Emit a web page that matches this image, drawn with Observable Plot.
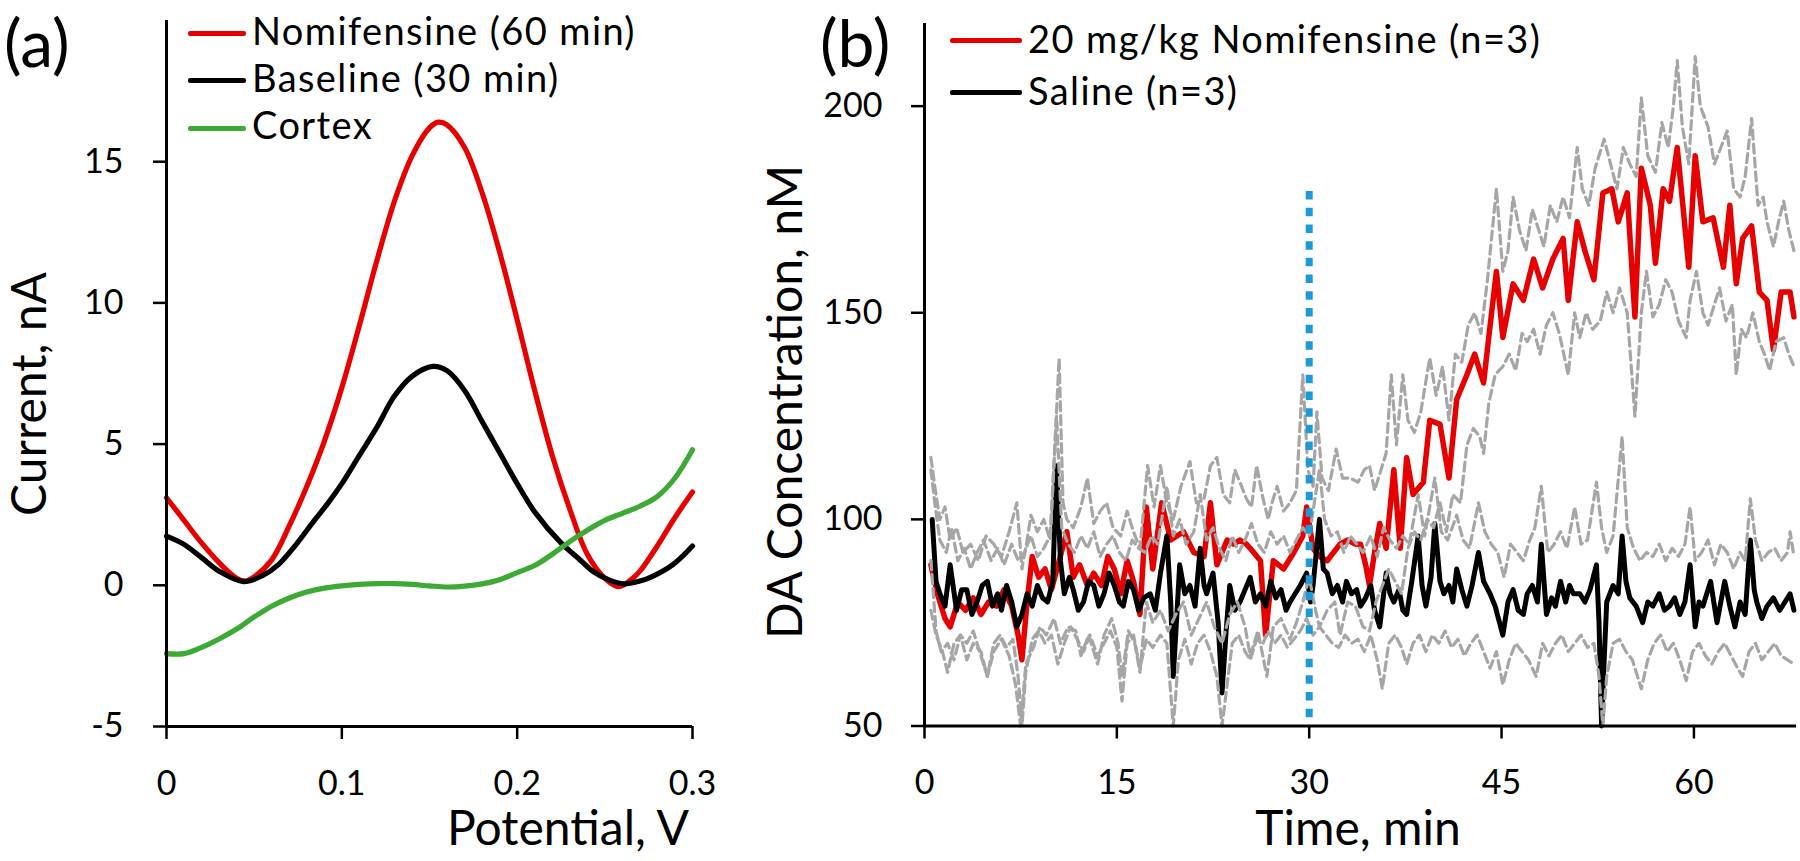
<!DOCTYPE html>
<html><head><meta charset="utf-8">
<script src="https://cdn.jsdelivr.net/npm/d3@7"></script>
<script src="https://cdn.jsdelivr.net/npm/@observablehq/plot@0.6"></script>
<style>
html,body{margin:0;padding:0;background:#fff;}
#fig{position:relative;width:1800px;height:861px;overflow:hidden;font-family:Lato,"Open Sans",sans-serif;color:#000;}
.pane{position:absolute;top:0;}
.t{position:absolute;white-space:nowrap;line-height:1;}
.leg{font-size:38px;letter-spacing:1.4px;}
.sw{position:absolute;height:5px;border-radius:2px;}
.ttl{font-size:48px;}
.rot{transform-origin:0 0;transform:rotate(-90deg) translateX(-50%);}
</style></head>
<body>
<div id="fig">
  <div id="pa" class="pane" style="left:0"></div>
  <div id="pb" class="pane" style="left:780px"></div>

  <div class="t" style="left:4px;top:9px;font-size:66px;">(a)</div>
  <div class="t" style="left:820px;top:9px;font-size:66px;">(b)</div>

  <div class="sw" style="left:188px;top:30.5px;width:58px;background:#e60000"></div>
  <div class="t leg" style="left:252px;top:11.3px">Nomifensine (60 min)</div>
  <div class="sw" style="left:188px;top:77.5px;width:58px;background:#000"></div>
  <div class="t leg" style="left:252px;top:58.3px">Baseline (30 min)</div>
  <div class="sw" style="left:188px;top:125.5px;width:58px;background:#3daa35"></div>
  <div class="t leg" style="left:252px;top:105.3px">Cortex</div>

  <div class="sw" style="left:950px;top:37.5px;width:72px;background:#e60000"></div>
  <div class="t leg" style="left:1028px;top:19.3px">20 mg/kg Nomifensine (n=3)</div>
  <div class="sw" style="left:950px;top:89.5px;width:72px;background:#000"></div>
  <div class="t leg" style="left:1028px;top:71.3px">Saline (n=3)</div>

  <div class="t ttl" style="left:447px;top:803.4px">Potential, V</div>
  <div class="t ttl" style="left:1358px;top:803.4px;transform:translateX(-50%)">Time, min</div>
  <div class="t ttl rot" style="left:4.4px;top:394px">Current, nA</div>
  <div class="t ttl rot" style="left:760px;top:402px">DA Concentration, nM</div>
</div>
<script>
// ---------- Panel (a): voltammograms [potential V, current nA] ----------
const potentialTicks = [0, 0.1, 0.2, 0.3];
const currentTicks = [-5, 0, 5, 10, 15];
const nomifensine60 = [[0,3.1],[0.01,2.3],[0.02,1.5],[0.03,0.8],[0.04,0.25],[0.045,0.15],[0.05,0.3],[0.06,0.9],[0.07,2.1],[0.08,3.5],[0.09,5.1],[0.10,7.0],[0.11,9.2],[0.12,11.5],[0.13,13.6],[0.14,15.2],[0.15,16.2],[0.155,16.4],[0.16,16.3],[0.17,15.5],[0.18,13.9],[0.19,11.8],[0.20,9.4],[0.21,6.9],[0.22,4.6],[0.23,2.7],[0.24,1.1],[0.25,0.25],[0.258,-0.05],[0.265,0.2],[0.27,0.5],[0.28,1.4],[0.29,2.4],[0.30,3.3]];
const baseline30 = [[0,1.74],[0.01,1.45],[0.02,0.98],[0.03,0.5],[0.044,0.13],[0.055,0.35],[0.064,0.74],[0.074,1.45],[0.084,2.27],[0.092,2.9],[0.10,3.6],[0.11,4.6],[0.12,5.6],[0.13,6.7],[0.14,7.4],[0.152,7.75],[0.16,7.6],[0.17,6.9],[0.18,5.8],[0.19,4.7],[0.20,3.6],[0.21,2.6],[0.225,1.5],[0.235,0.95],[0.243,0.5],[0.252,0.2],[0.261,0.05],[0.27,0.15],[0.276,0.28],[0.289,0.74],[0.30,1.39]];
const cortex = [[0,-2.42],[0.01,-2.42],[0.02,-2.2],[0.03,-1.9],[0.04,-1.55],[0.05,-1.12],[0.06,-0.74],[0.07,-0.45],[0.08,-0.24],[0.09,-0.1],[0.10,-0.02],[0.11,0.03],[0.12,0.06],[0.13,0.06],[0.14,0.03],[0.15,-0.02],[0.16,-0.06],[0.17,-0.03],[0.18,0.05],[0.19,0.2],[0.20,0.45],[0.21,0.7],[0.22,1.1],[0.23,1.55],[0.24,1.95],[0.25,2.3],[0.26,2.55],[0.27,2.8],[0.28,3.15],[0.29,3.8],[0.30,4.8]];

// ---------- Panel (b): DA concentration [time min, nM] ----------
const timeTicks = [0, 15, 30, 45, 60];
const concTicks = [50, 100, 150, 200];
const injectionTime = [30];
const injectionSpan = [52, 181];
const nomifensineMean = [[0.5,89],[1.0,82],[1.6,76],[2.0,74],[2.6,80],[3.2,78],[3.8,81],[4.4,77],[5.0,80],[5.6,79],[6.2,83],[6.8,79],[7.3,72],[7.6,66],[8.0,80],[8.4,91],[8.9,86],[9.4,88],[9.9,83],[10.5,90],[11.1,97],[11.6,86],[12.1,89],[12.7,84],[13.2,87],[13.8,84],[14.3,91],[14.8,88],[15.3,82],[15.8,90],[16.3,85],[16.8,77],[17.3,103],[17.8,88],[18.5,104],[19.2,95],[20.2,97],[21.0,92],[21.8,91],[22.3,104],[22.8,89],[23.6,95],[24.1,94],[24.6,95],[25.1,94],[25.4,93],[26.2,90],[26.6,72],[27.2,90],[28.0,88],[28.8,92],[29.5,96],[29.8,103],[30.3,93],[30.8,91],[31.4,90],[32.4,94],[33.0,95],[33.6,94],[34.0,94],[34.4,89],[34.7,84],[35.1,92],[35.5,99],[36.0,93],[36.6,112],[37.1,93],[37.6,115],[38.1,106],[38.9,109],[39.4,124],[40.2,123],[40.9,110],[41.5,129],[42.3,135],[42.9,140],[43.6,133],[44.0,144],[44.6,160],[45.1,144],[45.9,157],[46.7,153],[47.5,163],[48.2,156],[49.0,163],[49.8,168],[50.2,153],[50.9,172],[51.5,165],[52.2,158],[52.9,179],[53.6,180],[54.1,172],[54.8,179],[55.4,149],[55.9,185],[56.6,176],[57.0,162],[57.6,180],[58.1,177],[58.7,190],[59.2,174],[59.6,161],[60.1,188],[60.7,172],[61.5,173],[62.3,161],[62.8,176],[63.3,157],[63.8,168],[64.5,171],[65.1,155],[65.7,153],[66.2,141],[66.8,155],[67.5,155],[67.8,149]];
const nomifensineUpper = [[0.5,115],[0.8,108],[1.2,100],[1.6,103],[2.0,95],[2.5,98],[3.0,92],[3.6,94],[4.2,90],[4.8,96],[5.4,94],[6.0,91],[6.6,97],[7.2,104],[7.6,88],[8.0,95],[8.3,101],[8.8,97],[9.3,100],[9.8,95],[10.5,139],[10.8,104],[11.1,100],[11.6,98],[12.2,103],[12.7,110],[13.2,99],[13.7,102],[14.2,104],[14.7,98],[15.3,96],[15.8,102],[16.3,97],[16.8,93],[17.4,113],[17.9,103],[18.4,113],[18.9,104],[19.4,100],[20.0,108],[20.7,114],[21.2,104],[21.8,105],[22.3,113],[22.8,115],[23.3,106],[23.8,104],[24.2,112],[24.6,109],[25.1,105],[25.5,103],[25.9,113],[26.4,105],[26.8,100],[27.1,104],[27.5,108],[28.0,102],[28.5,104],[29.0,107],[29.5,135],[29.9,112],[30.3,108],[30.6,126],[31.0,110],[31.5,107],[32.1,117],[32.6,110],[33.2,110],[33.8,109],[34.3,112],[34.7,113],[35.1,107],[35.6,112],[36.0,116],[36.4,135],[36.8,118],[37.3,135],[37.7,124],[38.2,121],[38.7,126],[39.4,139],[39.9,130],[40.4,137],[40.9,124],[41.4,140],[41.9,138],[42.4,147],[42.9,150],[43.4,145],[43.9,158],[44.6,180],[45.1,160],[45.5,165],[45.9,178],[46.4,170],[46.9,165],[47.4,175],[47.9,170],[48.3,166],[48.8,176],[49.3,172],[49.8,178],[50.3,173],[50.9,190],[51.3,180],[51.8,176],[52.3,185],[53.0,192],[53.5,186],[54.0,180],[54.5,190],[55.0,186],[55.5,183],[55.9,202],[56.4,188],[57.0,184],[57.5,196],[58.0,190],[58.4,200],[58.7,211],[59.1,195],[59.6,186],[60.1,212],[60.5,200],[61.1,195],[61.6,186],[62.1,190],[62.6,194],[63.1,180],[63.6,178],[64.0,183],[64.5,197],[65.0,176],[65.4,178],[65.7,172],[66.2,166],[66.6,172],[67.0,177],[67.4,170],[67.8,165]];
const nomifensineLower = [[0.5,78],[0.9,72],[1.4,68],[1.8,63],[2.3,70],[2.8,72],[3.3,66],[3.8,70],[4.4,68],[4.9,62],[5.4,68],[6.0,71],[6.6,67],[7.1,60],[7.5,50],[7.9,65],[8.5,69],[9.0,74],[9.5,72],[10.1,76],[10.6,70],[11.2,74],[11.8,73],[12.2,67],[12.8,72],[13.5,65],[14.0,72],[14.6,76],[15.1,70],[15.4,62],[15.9,73],[16.4,70],[16.8,63],[17.3,80],[17.8,75],[18.4,78],[19.0,73],[19.6,77],[20.2,80],[20.8,72],[21.4,76],[22.0,80],[22.6,74],[23.2,70],[23.8,77],[24.4,80],[25.0,74],[25.4,67],[26.0,73],[26.7,62],[27.2,74],[27.8,76],[28.5,71],[29.0,75],[29.5,80],[30.0,86],[30.5,78],[30.8,74],[31.4,78],[32.0,80],[32.4,72],[33.0,80],[33.6,79],[34.2,74],[34.7,73],[35.2,80],[35.7,84],[36.2,88],[36.7,85],[37.2,82],[37.7,93],[38.2,97],[38.7,95],[39.2,100],[39.7,98],[40.2,104],[40.7,97],[41.2,106],[41.8,104],[42.3,118],[42.8,122],[43.3,120],[43.6,116],[44.0,128],[44.5,135],[45.1,137],[45.6,140],[46.1,136],[46.6,145],[47.0,143],[47.5,146],[48.0,140],[48.5,147],[49.0,150],[49.5,145],[50.2,135],[50.7,150],[51.1,144],[51.6,150],[52.1,146],[52.7,148],[53.2,155],[53.7,150],[54.2,156],[54.8,150],[55.4,125],[55.9,150],[56.3,160],[56.8,149],[57.3,152],[57.8,158],[58.3,155],[58.8,148],[59.4,144],[59.7,153],[60.2,160],[60.7,150],[61.1,147],[61.5,151],[62.0,156],[62.5,148],[63.0,152],[63.3,135],[63.7,146],[64.1,144],[64.6,150],[65.1,143],[65.5,140],[65.9,136],[66.4,143],[67.0,144],[67.4,140],[67.8,137]];
const salineMean = [[0.6,100],[0.9,85],[1.2,82],[1.6,79],[2.0,89],[2.5,78],[2.9,83],[3.3,83],[3.7,77],[4.1,80],[4.5,84],[4.9,85],[5.3,79],[5.7,82],[6.0,78],[6.4,84],[6.8,80],[7.2,74],[7.6,77],[8.0,82],[8.4,79],[8.8,84],[9.2,81],[9.6,80],[10.0,85],[10.3,113],[10.6,90],[10.9,82],[11.3,86],[11.6,83],[12.0,78],[12.4,80],[12.8,85],[13.2,84],[13.6,79],[14.0,82],[14.4,87],[14.8,84],[15.2,80],[15.5,79],[15.9,85],[16.3,83],[16.7,78],[17.1,81],[17.6,82],[18.0,78],[18.4,87],[18.9,96],[19.2,80],[19.4,62],[19.7,78],[19.9,89],[20.3,82],[20.7,84],[21.1,79],[21.5,93],[21.8,84],[22.0,82],[22.5,87],[22.9,75],[23.2,58],[23.5,72],[23.8,84],[24.2,78],[24.6,80],[25.0,83],[25.4,86],[25.8,80],[26.2,82],[26.6,79],[27.0,85],[27.4,81],[27.8,83],[28.2,78],[28.5,80],[28.9,82],[29.3,84],[29.8,87],[30.1,80],[30.3,84],[30.8,100],[31.1,88],[31.4,87],[31.8,82],[32.2,84],[32.6,80],[32.9,85],[33.3,82],[33.7,83],[34.0,79],[34.4,81],[34.8,84],[35.1,78],[35.5,74],[36.0,87],[36.3,82],[36.6,80],[37.0,83],[37.3,78],[37.6,77],[38.0,85],[38.5,96],[38.8,84],[39.1,79],[39.5,86],[39.8,99],[40.2,85],[40.5,82],[40.9,84],[41.2,80],[41.5,88],[41.9,83],[42.3,79],[42.7,84],[43.2,92],[43.6,85],[44.1,82],[44.5,79],[45.1,72],[45.5,80],[45.9,83],[46.3,78],[46.7,77],[47.0,82],[47.4,84],[47.8,80],[48.1,94],[48.5,77],[48.9,81],[49.2,79],[49.6,85],[50.0,80],[50.3,84],[50.6,82],[51.1,82],[51.5,80],[51.9,83],[52.4,89],[52.6,75],[52.8,50],[53.0,66],[53.2,80],[53.7,84],[54.1,82],[54.4,96],[54.7,85],[55.0,81],[55.5,79],[56.0,75],[56.4,80],[56.8,79],[57.3,82],[57.7,78],[58.1,79],[58.5,81],[58.9,77],[59.3,80],[59.7,89],[60.1,74],[60.4,80],[60.7,79],[61.0,82],[61.3,85],[61.8,75],[62.1,80],[62.4,85],[62.8,79],[63.2,74],[63.6,80],[64.0,77],[64.4,95],[64.7,83],[64.9,80],[65.3,76],[65.7,79],[66.2,81],[66.7,78],[67.1,80],[67.5,82],[67.8,78]];
const salineUpper = [[0.5,112],[0.8,104],[1.2,95],[1.7,92],[2.1,98],[2.6,90],[3.1,93],[3.6,88],[4.1,92],[4.6,95],[5.2,90],[5.7,93],[6.2,89],[6.8,94],[7.3,90],[7.8,92],[8.3,96],[8.8,91],[9.3,93],[9.8,96],[10.3,125],[10.7,98],[11.2,94],[11.7,92],[12.2,96],[12.7,93],[13.2,97],[13.7,91],[14.2,94],[14.7,96],[15.2,92],[15.7,90],[16.2,95],[16.7,93],[17.2,92],[17.7,96],[18.2,94],[18.9,108],[19.4,96],[19.9,100],[20.4,94],[21.0,97],[21.5,106],[22.0,95],[22.5,98],[23.0,93],[23.5,90],[24.0,96],[24.5,92],[25.0,95],[25.5,99],[26.0,94],[26.5,92],[27.0,97],[27.5,94],[28.0,96],[28.5,92],[29.0,95],[29.5,98],[30.0,96],[30.8,112],[31.2,100],[31.7,96],[32.2,97],[32.7,92],[33.2,96],[33.7,94],[34.2,92],[34.8,96],[35.3,91],[35.8,98],[36.3,95],[36.8,93],[37.3,96],[37.8,94],[38.5,106],[39.0,96],[39.8,110],[40.3,97],[40.8,95],[41.5,101],[42.0,95],[42.5,93],[43.2,104],[43.7,97],[44.2,94],[44.7,92],[45.2,86],[45.7,94],[46.2,92],[46.7,90],[47.2,95],[47.6,98],[48.1,108],[48.6,92],[49.1,94],[49.6,97],[50.1,93],[50.7,103],[51.2,94],[51.7,95],[52.4,109],[52.8,98],[53.2,92],[53.7,96],[54.4,120],[54.8,98],[55.3,93],[55.8,90],[56.3,92],[56.8,91],[57.3,94],[57.8,90],[58.3,93],[58.8,91],[59.3,94],[59.7,103],[60.1,90],[60.6,92],[61.1,95],[61.6,89],[62.1,94],[62.6,92],[63.1,88],[63.6,92],[64.0,90],[64.4,105],[64.8,95],[65.3,90],[65.8,92],[66.3,93],[66.8,90],[67.3,92],[67.5,97],[67.8,91]];
const salineLower = [[0.5,90],[0.9,73],[1.3,68],[1.8,70],[2.3,66],[2.8,72],[3.3,70],[3.8,73],[4.3,68],[4.9,62],[5.4,70],[5.9,72],[6.4,69],[6.9,71],[7.3,62],[7.6,50],[7.9,63],[8.4,71],[8.9,73],[9.4,70],[9.9,72],[10.4,65],[10.9,70],[11.4,74],[11.9,71],[12.4,68],[12.9,72],[13.5,67],[14.0,70],[14.5,73],[15.0,69],[15.4,56],[15.8,70],[16.3,72],[16.8,64],[17.3,71],[17.8,69],[18.4,72],[18.9,70],[19.4,50],[19.8,66],[20.3,71],[20.8,65],[21.3,70],[21.8,72],[22.3,68],[22.8,62],[23.2,50],[23.6,60],[24.0,70],[24.5,72],[25.0,68],[25.4,66],[25.9,71],[26.4,70],[26.8,73],[27.3,70],[27.8,72],[28.3,69],[28.8,71],[29.3,73],[29.8,76],[30.3,72],[30.8,74],[31.3,72],[31.8,70],[32.3,69],[32.8,72],[33.3,70],[33.8,71],[34.3,68],[34.8,72],[35.3,66],[35.7,59],[36.2,70],[36.7,72],[37.2,69],[37.6,65],[38.1,70],[38.6,72],[39.1,68],[39.6,72],[40.1,70],[40.6,73],[41.1,69],[41.6,71],[42.1,67],[42.6,70],[43.1,72],[43.6,68],[44.1,64],[44.6,68],[45.1,60],[45.6,66],[46.1,70],[46.6,68],[47.1,66],[47.7,62],[48.2,70],[48.7,67],[49.2,70],[49.7,72],[50.2,68],[50.7,70],[51.2,72],[51.7,69],[52.2,70],[52.6,62],[52.9,50],[53.2,62],[53.7,70],[54.2,71],[54.7,68],[55.2,66],[55.9,59],[56.4,66],[56.9,70],[57.4,72],[57.9,68],[58.4,70],[58.9,66],[59.4,61],[59.9,68],[60.4,70],[60.9,67],[61.4,65],[61.9,68],[62.4,70],[62.9,67],[63.4,64],[63.8,62],[64.3,68],[64.8,70],[65.3,66],[65.8,68],[66.3,70],[66.8,67],[67.3,66],[67.8,65]];

// ---------- styles ----------
const RED = "#e60000", BLACK = "#000000", GREEN = "#3daa35", GRAY = "#a6a6a6", BLUE = "#1b9ad6";
const FONT = "Lato, 'Open Sans', sans-serif";
const px = d => d[0], py = d => d[1];
const baseStyle = {fontFamily: FONT, fontSize: "34px", color: "#000", background: "transparent", overflow: "visible"};

const plotA = Plot.plot({
  width: 780, height: 861,
  marginLeft: 166, marginRight: 88, marginTop: 20, marginBottom: 135,
  style: baseStyle,
  x: {domain: [0, 0.3]},
  y: {domain: [-5, 20]},
  marks: [
    Plot.axisX({ticks: potentialTicks, tickFormat: d => String(d), tickSize: 13, tickPadding: 31, strokeWidth: 2.5, label: null}),
    Plot.axisY({ticks: currentTicks, tickFormat: d => String(d), tickSize: 13, tickPadding: 30, strokeWidth: 2.5, label: null}),
    Plot.line(nomifensine60, {x: px, y: py, stroke: RED, strokeWidth: 5.2, curve: "catmull-rom"}),
    Plot.line(baseline30, {x: px, y: py, stroke: BLACK, strokeWidth: 5.2, curve: "catmull-rom"}),
    Plot.line(cortex, {x: px, y: py, stroke: GREEN, strokeWidth: 5.2, curve: "catmull-rom"}),
    Plot.ruleX([0], {stroke: "#000", strokeWidth: 3}),
    Plot.ruleY([-5], {stroke: "#000", strokeWidth: 3})
  ]
});
document.getElementById("pa").append(plotA);

const dashed = {x: px, y: py, stroke: GRAY, strokeWidth: 3.2, strokeDasharray: "9,5"};
const plotB = Plot.plot({
  width: 1020, height: 861,
  marginLeft: 144, marginRight: 4, marginTop: 23, marginBottom: 135.5,
  style: baseStyle,
  x: {domain: [0, 68]},
  y: {domain: [50, 220]},
  marks: [
    Plot.axisX({ticks: timeTicks, tickFormat: d => String(d), tickSize: 13, tickPadding: 31, strokeWidth: 2.5, label: null}),
    Plot.axisY({ticks: concTicks, tickFormat: d => String(d), tickSize: 13, tickPadding: 29, strokeWidth: 2.5, label: null}),
    Plot.line(nomifensineMean, {x: px, y: py, stroke: RED, strokeWidth: 5.5, strokeLinejoin: "round"}),
    Plot.line(salineMean, {x: px, y: py, stroke: BLACK, strokeWidth: 5, strokeLinejoin: "round"}),
    Plot.line(nomifensineUpper, dashed),
    Plot.line(nomifensineLower, dashed),
    Plot.line(salineUpper, dashed),
    Plot.line(salineLower, dashed),
    Plot.ruleX(injectionTime, {y1: injectionSpan[0], y2: injectionSpan[1], stroke: BLUE, strokeWidth: 7, strokeDasharray: "8.5,8.2"}),
    Plot.ruleX([0], {stroke: "#000", strokeWidth: 3}),
    Plot.ruleY([50], {stroke: "#000", strokeWidth: 3})
  ]
});
document.getElementById("pb").append(plotB);
</script>
</body></html>
